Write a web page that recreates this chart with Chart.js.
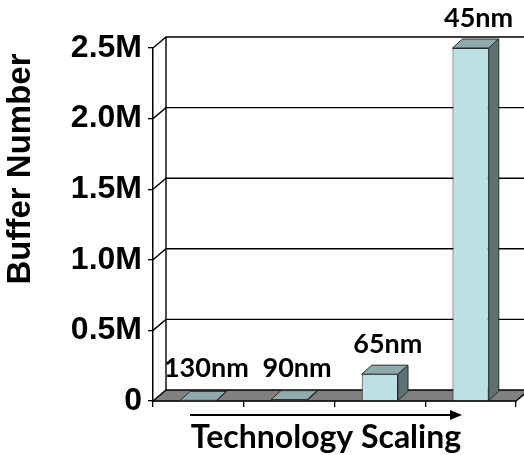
<!DOCTYPE html>
<html>
<head>
<meta charset="utf-8">
<title>Buffer Number vs Technology Scaling</title>
<script src="https://cdn.jsdelivr.net/npm/chart.js@4.4.1/dist/chart.umd.min.js"></script>
<style>
  html, body { margin: 0; padding: 0; background: #ffffff; }
  #wrap { width: 524px; height: 455px; position: relative; }
</style>
</head>
<body>
<div id="wrap"><canvas id="buffer-chart"></canvas></div>
<script>
// ===== DATA =====
const categories = ['130nm', '90nm', '65nm', '45nm'];
const bufferCounts = [3000, 10000, 190000, 2500000];
const yTickValues = [0, 500000, 1000000, 1500000, 2000000, 2500000];
const yTickLabels = ['0', '0.5M', '1.0M', '1.5M', '2.0M', '2.5M'];

const yTitle = 'Buffer Number';
const xTitle = 'Technology Scaling';

// ===== STYLE =====
const COLORS = {
  front: '#bce0e3',
  top: '#8eaaab',
  side: '#5e7273',
  floor: '#808080',
  edge: '#2b2b2b',
  line: '#000000'
};
const WALL_DEPTH = { dx: 13, dy: -11 };
const BAR_DEPTH = { dx: 10, dy: -9 };
const TICK_FONT = "bold 32px 'Liberation Sans', Arial, sans-serif";
const TITLE_FONT = "bold 33px 'Liberation Sans', Arial, sans-serif";
const LABEL_FONT = "bold 27px Lato, 'Open Sans', sans-serif";

/**
 * Pseudo-3D walls, floor, bar sides and the text decorations
 */
const box3d = {
  id: 'box3d',

  beforeDatasetsDraw(chart) {
    const { ctx, chartArea: a, scales } = chart;
    const y = scales.y;
    const { dx, dy } = WALL_DEPTH;
    const farRight = chart.width + 10;

    ctx.save();
    ctx.strokeStyle = COLORS.line;
    ctx.lineWidth = 1.4;

    // back wall gridlines + side diagonals
    yTickValues.forEach(v => {
      if (v === 0) return;
      const py = y.getPixelForValue(v);
      ctx.beginPath();
      ctx.moveTo(a.left, py);
      ctx.lineTo(a.left + dx, py + dy);
      ctx.lineTo(farRight, py + dy);
      ctx.stroke();
    });

    // back wall left edge
    ctx.beginPath();
    ctx.moveTo(a.left + dx, y.getPixelForValue(yTickValues[yTickValues.length - 1]) + dy);
    ctx.lineTo(a.left + dx, a.bottom + dy);
    ctx.stroke();

    // floor
    ctx.beginPath();
    ctx.moveTo(a.left, a.bottom);
    ctx.lineTo(a.right, a.bottom);
    ctx.lineTo(a.right + dx, a.bottom + dy);
    ctx.lineTo(a.left + dx, a.bottom + dy);
    ctx.closePath();
    ctx.fillStyle = COLORS.floor;
    ctx.fill();
    ctx.stroke();
    ctx.restore();
  },

  afterDatasetsDraw(chart) {
    const { ctx, chartArea: a } = chart;
    const { dx, dy } = BAR_DEPTH;
    const meta = chart.getDatasetMeta(0);
    // keep labels of flat bars clear of the floor
    const labelFloor = a.bottom + WALL_DEPTH.dy - 22;

    ctx.save();
    ctx.strokeStyle = COLORS.edge;
    ctx.lineWidth = 1;
    ctx.lineJoin = 'round';

    meta.data.forEach((bar, i) => {
      const half = bar.width / 2;
      const l = bar.x - half;
      const r = bar.x + half;
      const top = Math.min(bar.y, bar.base);
      const base = Math.max(bar.y, bar.base);

      // top face
      ctx.beginPath();
      ctx.moveTo(l, top);
      ctx.lineTo(r, top);
      ctx.lineTo(r + dx, top + dy);
      ctx.lineTo(l + dx, top + dy);
      ctx.closePath();
      ctx.fillStyle = COLORS.top;
      ctx.fill();
      ctx.stroke();

      // side face
      ctx.beginPath();
      ctx.moveTo(r, top);
      ctx.lineTo(r + dx, top + dy);
      ctx.lineTo(r + dx, base + dy);
      ctx.lineTo(r, base);
      ctx.closePath();
      ctx.fillStyle = COLORS.side;
      ctx.fill();
      ctx.stroke();

      // category label above the bar
      ctx.fillStyle = '#000';
      ctx.font = LABEL_FONT;
      ctx.textAlign = 'center';
      ctx.textBaseline = 'middle';
      ctx.fillText(categories[i], bar.x + 8, Math.min(top + dy - 21, labelFloor));
    });
    ctx.restore();
  },

  afterDraw(chart) {
    const { ctx, chartArea: a } = chart;
    ctx.save();
    ctx.fillStyle = '#000';
    ctx.strokeStyle = '#000';

    // y title
    ctx.font = TITLE_FONT;
    ctx.textAlign = 'center';
    ctx.textBaseline = 'middle';
    ctx.translate(21, 169);
    ctx.rotate(-Math.PI / 2);
    ctx.fillText(yTitle, 0, 0);
    ctx.setTransform(1, 0, 0, 1, 0, 0);

    // arrow under the axis
    const ax0 = a.left + 37;
    const ax1 = a.left + 309;
    const ay = a.bottom + 14;
    ctx.lineWidth = 2;
    ctx.beginPath();
    ctx.moveTo(ax0, ay);
    ctx.lineTo(ax1 - 10, ay);
    ctx.stroke();
    ctx.beginPath();
    ctx.moveTo(ax1 - 12, ay - 5);
    ctx.lineTo(ax1, ay);
    ctx.lineTo(ax1 - 12, ay + 5);
    ctx.closePath();
    ctx.fill();

    // x title
    ctx.font = "bold 32px Lato, 'Open Sans', sans-serif";
    ctx.textAlign = 'center';
    ctx.textBaseline = 'alphabetic';
    ctx.fillText(xTitle, (ax0 + ax1) / 2, a.bottom + 47);
    ctx.restore();
  }
};

// ===== CHART =====
const ctx = document.getElementById('buffer-chart');

new Chart(ctx, {
  type: 'bar',
  data: {
    labels: categories,
    datasets: [{
      label: yTitle,
      data: bufferCounts,
      backgroundColor: COLORS.front,
      borderColor: COLORS.edge,
      borderWidth: 1,
      borderSkipped: 'start',
      categoryPercentage: 1,
      barPercentage: 0.4
    }]
  },
  options: {
    responsive: true,
    maintainAspectRatio: false,
    animation: false,
    layout: { padding: { top: 48, right: 8, left: 0, bottom: 0 } },
    plugins: {
      legend: { display: false },
      tooltip: { enabled: false }
    },
    scales: {
      x: {
        offset: true,
        grid: {
          offset: true,
          drawOnChartArea: false,
          drawTicks: true,
          tickLength: 6,
          color: COLORS.line,
          lineWidth: 1.3
        },
        border: { display: true, color: COLORS.line, width: 1.3 },
        ticks: { display: false },
        afterFit(scale) { scale.height = 54; }
      },
      y: {
        min: 0,
        max: 2500000,
        afterBuildTicks(scale) {
          scale.ticks = yTickValues.map(v => ({ value: v }));
        },
        grid: {
          drawOnChartArea: false,
          drawTicks: true,
          tickLength: 5,
          color: COLORS.line,
          lineWidth: 1.3
        },
        border: { display: true, color: COLORS.line, width: 1.5 },
        ticks: {
          padding: 6,
          color: '#000',
          font: { family: "'Liberation Sans', Arial, sans-serif", size: 32, weight: 'bold' },
          callback: (value, index) => yTickLabels[index]
        },
        afterFit(scale) { scale.width = 153; }
      }
    }
  },
  plugins: [box3d]
});
</script>
</body>
</html>
